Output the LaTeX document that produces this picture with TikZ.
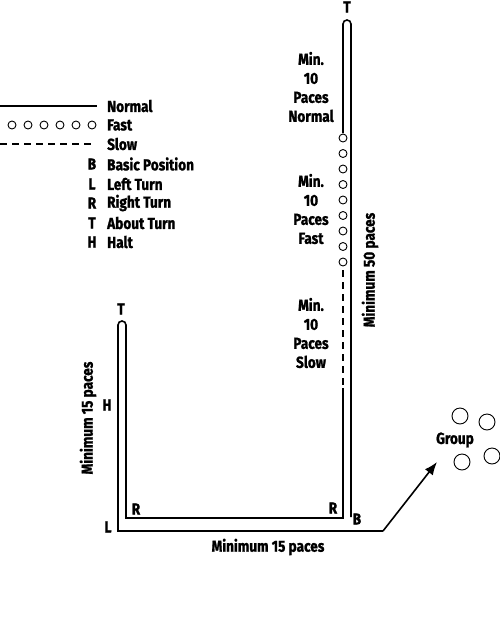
\documentclass[tikz,border=0pt]{standalone}
\usepackage{fontspec}
\setmainfont{Fira Sans}[FakeStretch=0.85, BoldFeatures={FakeBold=1.2}]
\usetikzlibrary{arrows.meta}
\tikzset{
  lbl/.style={font=\fontsize{16}{19}\selectfont\bfseries, inner sep=0pt},
  route/.style={line width=1.6pt},
  pace/.style={line width=0.9pt},
  slow/.style={route, dash pattern=on 7pt off 5pt},
}
\begin{document}
\begin{tikzpicture}[x=1pt,y=-1pt]
    \useasboundingbox (0,0) rectangle (500,633);

    % Legend
    \draw[route] (0,106) -- (97,106);
    \foreach \x in {12,28,44,60,76,92} \draw[pace] (\x,125) circle (4);
    \draw[slow] (0,144) -- (95,144);
    \node[lbl, anchor=west] (kNormal) at (107,106) {Normal};
    \node[lbl, anchor=west] (kFast) at (107,125) {Fast};
    \node[lbl, anchor=west] (kSlow) at (107,144) {Slow};
    \node[lbl] (kB) at (92,164) {B}; \node[lbl, anchor=west] (kBasic) at (107,164) {Basic Position};
    \node[lbl] (kL) at (92,184) {L}; \node[lbl, anchor=west] (kLeft) at (107,184) {Left Turn};
    \node[lbl] (kR) at (92,203) {R}; \node[lbl, anchor=west] (kRight) at (107,203) {Right Turn};
    \node[lbl] (kT) at (92,223) {T}; \node[lbl, anchor=west] (kAbout) at (107,223) {About Turn};
    \node[lbl] (kH) at (92,242) {H}; \node[lbl, anchor=west] (kHalt) at (107,242) {Halt};

    % Long leg: out, about turn, back normal / fast / slow
    \draw[route] (351,517) -- (351,24) arc[start angle=0, end angle=-180, radius=4] -- (343,133);
    \foreach \k in {0,...,8} \draw[pace] (343,{138+15.5*\k}) circle (4);
    \draw[slow] (343,270) -- (343,388);

    % Right turns, about turn, left turn
    \draw[route] (343,388) -- (343,518) -- (126,518) -- (126,325)
        arc[start angle=0, end angle=-180, radius=4] -- (118,531) -- (383,531);

    % To the group
    \coordinate (exit) at (383,531);
    \coordinate (arrive) at (437,462);
    \draw[route, -{Latex[length=13pt, width=10pt]}] (exit) -- (arrive);
    \foreach \p in {(460,416),(487,422),(462,462),(492,456)} \draw[pace] \p circle (8);
    \node[lbl] (group) at (455,440) {Group};

    % Turn labels
    \node[lbl] (tTop) at (347,7) {T};
    \node[lbl] (tLeft) at (121,309) {T};
    \node[lbl] (halt) at (107,405) {H};
    \node[lbl] (rLeft) at (136,509) {R};
    \node[lbl] (rRight) at (333,508) {R};
    \node[lbl] (basic) at (357,519) {B};
    \node[lbl] (left) at (108,527) {L};

    % Distances
    \node[lbl, rotate=90] (minLeft) at (88,418) {Minimum 15 paces};
    \node[lbl, rotate=90] (minRight) at (370,270) {Minimum 50 paces};
    \node[lbl] (minBottom) at (268,547) {Minimum 15 paces};
    \node[lbl, align=center] (paceNormal) at (311,87) {Min.\\10\\Paces\\Normal};
    \node[lbl, align=center] (paceFast) at (311,209) {Min.\\10\\Paces\\Fast};
    \node[lbl, align=center] (paceSlow) at (311,333) {Min.\\10\\Paces\\Slow};
\end{tikzpicture}
\end{document}
